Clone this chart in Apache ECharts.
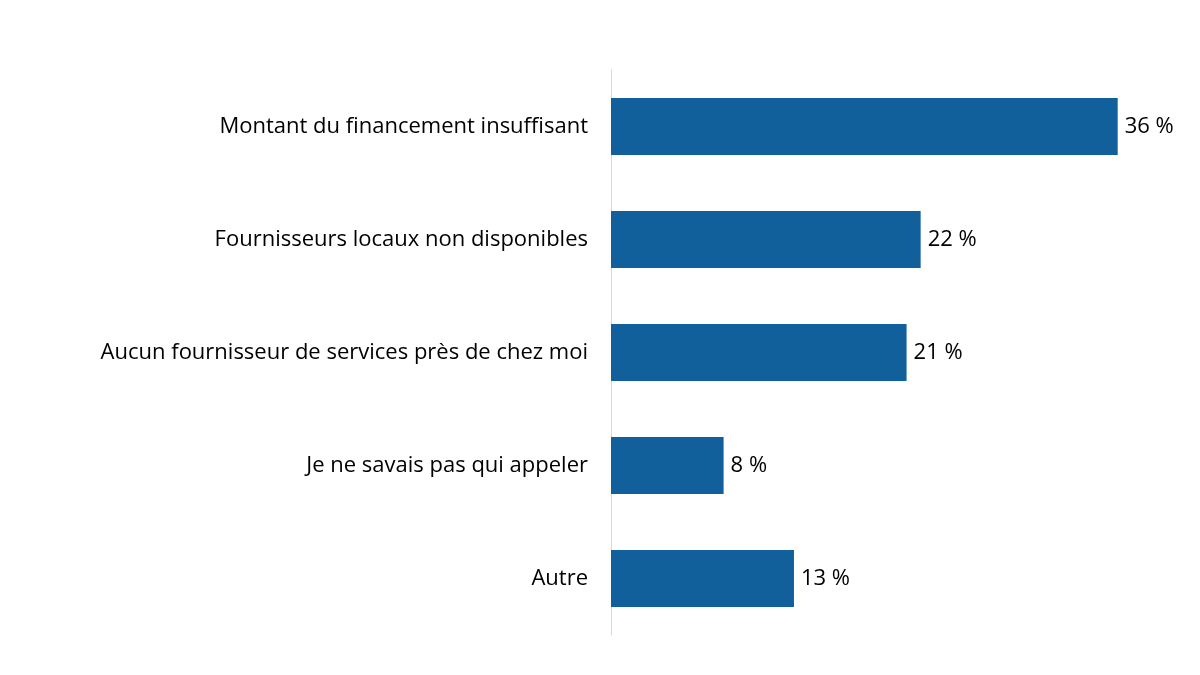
<!DOCTYPE html>
<html><head><meta charset="utf-8">
<script src="https://cdn.jsdelivr.net/npm/echarts@6/dist/echarts.min.js"></script>
<style>html,body{margin:0;padding:0;background:#fff}#c{width:1200px;height:675px}</style>
</head><body><div id="c"></div>
<script>
const categories = ["Montant du financement insuffisant","Fournisseurs locaux non disponibles","Aucun fournisseur de services près de chez moi","Je ne savais pas qui appeler","Autre"];
const values = [36,22,21,8,13];
const chart = echarts.init(document.getElementById('c'));
chart.setOption({
  animation:false,
  grid:{left:611,top:70,width:563,height:565,containLabel:false},
  xAxis:{type:'value',min:0,max:40,show:false},
  yAxis:{type:'category',inverse:true,data:categories,
    axisLine:{show:true,lineStyle:{color:'#D9D9D9',width:1}},
    axisTick:{show:false},
    axisLabel:{color:'#000',fontSize:22,fontFamily:'Open Sans',margin:23}},
  series:[{type:'bar',data:values,barWidth:57,itemStyle:{color:'#11609C'},
    label:{show:true,position:'right',distance:7,color:'#000',fontSize:22,fontFamily:'Open Sans',formatter:p=>p.value+' %'}}]
});
</script></body></html>
